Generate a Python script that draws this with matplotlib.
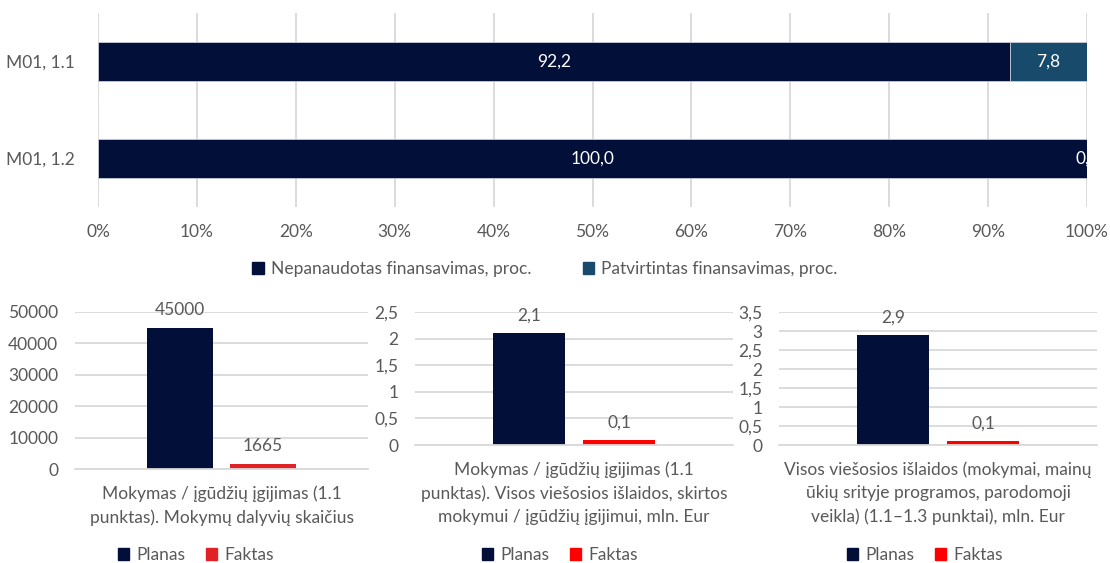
import matplotlib
matplotlib.use("Agg")
import matplotlib.pyplot as plt
from matplotlib.ticker import FuncFormatter
from matplotlib.patches import Patch

plt.rcParams['font.family'] = ['Lato', 'DejaVu Sans']

# top chart data
rows = ["M01, 1.1", "M01, 1.2"]
nepanaudotas = [92.2, 100.0]
patvirtintas = [7.8, 0.0]

# bottom charts data
series_names = ["Planas", "Faktas"]
kpi_titles = [
    "Mokymas / įgūdžių įgijimas (1.1\npunktas). Mokymų dalyvių skaičius",
    "Mokymas / įgūdžių įgijimas (1.1\npunktas). Visos viešosios išlaidos, skirtos\nmokymui / įgūdžių įgijimui, mln. Eur",
    "Visos viešosios išlaidos (mokymai, mainų\nūkių srityje programos, parodomoji\nveikla) (1.1–1.3 punktai), mln. Eur",
]
planas = [45000, 2.1, 2.9]
faktas = [1665, 0.1, 0.1]
y_max = [50000, 2.5, 3.5]
y_step = [10000, 0.5, 0.5]

NAVY = "#020f38"
TEAL = "#174a6b"
RED1 = "#e02126"
RED = "#ff0000"
GRID = "#d9d9d9"
TXT = "#595959"
FS = 12.5

W, H = 1110, 563
fig = plt.figure(figsize=(W / 100, H / 100), dpi=100)


def box(x0, x1, y0, y1):
    return [x0 / W, 1 - y1 / H, (x1 - x0) / W, (y1 - y0) / H]


def comma(v, _=None):
    s = f"{v:g}"
    return s.replace(".", ",")


# ---- top stacked bar chart ----
ax = fig.add_axes(box(98, 1087, 13, 207))
ypos = list(range(len(rows)))
ax.barh(ypos, nepanaudotas, height=0.4, color=NAVY, edgecolor="#c8ccd6", linewidth=0.6,
        label="Nepanaudotas finansavimas, proc.", zorder=2)
ax.barh(ypos, patvirtintas, left=nepanaudotas, height=0.4, color=TEAL, edgecolor="#c8ccd6",
        linewidth=0.6, label="Patvirtintas finansavimas, proc.", zorder=2)
for i in ypos:
    ax.text(nepanaudotas[i] / 2, i, f"{nepanaudotas[i]:.1f}".replace(".", ","),
            color="white", ha="center", va="center", fontsize=FS, zorder=3)
    ax.text(nepanaudotas[i] + patvirtintas[i] / 2, i, f"{patvirtintas[i]:.1f}".replace(".", ","),
            color="white", ha="center", va="center", fontsize=FS, zorder=3, clip_on=True)
ax.set_xlim(0, 100)
ax.set_ylim(1.5, -0.5)
ax.set_xticks(range(0, 101, 10))
ax.set_xticklabels([f"{t}%" for t in range(0, 101, 10)])
ax.set_yticks(ypos)
ax.set_yticklabels(rows)
ax.xaxis.grid(True, color=GRID, linewidth=1.3, zorder=0)
ax.tick_params(axis="both", length=0, labelsize=FS, colors=TXT)
ax.tick_params(axis="x", pad=12)
ax.tick_params(axis="y", pad=17)
for s in ax.spines.values():
    s.set_visible(False)
fig.legend(handles=[Patch(color=NAVY), Patch(color=TEAL)],
           labels=["Nepanaudotas finansavimas, proc.", "Patvirtintas finansavimas, proc."],
           loc="center", bbox_to_anchor=(545 / W, 1 - 269 / H), ncol=2, frameon=False,
           fontsize=FS, handlelength=0.65, handleheight=0.65, handletextpad=0.4,
           columnspacing=3.0, labelcolor=TXT)

# ---- bottom three charts ----
boxes = [(75, 368, 312, 469), (415, 733, 312, 445), (779, 1097, 312, 445)]
legend_x = [196, 560, 925]
reds = [RED1, RED, RED]
bw, off = 0.225, 0.142
for k in range(3):
    a = fig.add_axes(box(*boxes[k]))
    vals = [planas[k], faktas[k]]
    cols = [NAVY, reds[k]]
    for j in range(2):
        a.bar(-off if j == 0 else off, vals[j], width=bw, color=cols[j], zorder=2)
        lab = f"{vals[j]}" if k == 0 else comma(vals[j])
        a.annotate(lab, (-off if j == 0 else off, vals[j]), xytext=(0, 12.5),
                   textcoords="offset points", ha="center", va="center",
                   fontsize=FS, color=TXT)
    a.set_xlim(-0.5, 0.5)
    a.set_ylim(0, y_max[k])
    ticks = []
    t = 0
    while t <= y_max[k] + 1e-9:
        ticks.append(t)
        t += y_step[k]
    a.set_yticks(ticks)
    if k > 0:
        a.yaxis.set_major_formatter(FuncFormatter(comma))
    a.set_xticks([])
    a.yaxis.grid(True, color=GRID, linewidth=1.3, zorder=0)
    a.tick_params(axis="y", length=0, labelsize=FS, colors=TXT, pad=12)
    for s in a.spines.values():
        s.set_visible(False)
    a.spines["bottom"].set_visible(True)
    a.spines["bottom"].set_color(GRID)
    a.spines["bottom"].set_linewidth(1.3)
    a.annotate(kpi_titles[k], (0.5, 0), xycoords="axes fraction", xytext=(0, -12),
               textcoords="offset points", ha="center", va="top", fontsize=FS,
               color=TXT, linespacing=1.55)
    fig.legend(handles=[Patch(color=NAVY), Patch(color=reds[k])], labels=series_names,
               loc="center", bbox_to_anchor=(legend_x[k] / W, 1 - 555 / H), ncol=2,
               frameon=False, fontsize=FS, handlelength=0.65, handleheight=0.65,
               handletextpad=0.4, columnspacing=1.2, labelcolor=TXT)

fig.savefig("out.png", dpi=100)
